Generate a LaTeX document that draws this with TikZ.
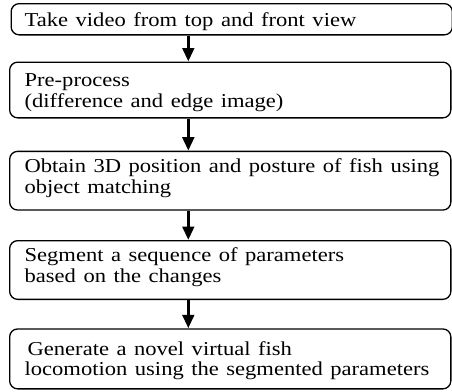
\documentclass[tikz,border=0pt]{standalone}
\usepackage{graphicx}
\usepackage{fontspec}
\setmainfont{Liberation Serif}
\usetikzlibrary{arrows.meta}
% the printed text is set wide
\newcommand{\wideline}[1]{\scalebox{1.145}[1]{#1}}
\begin{document}
\begin{tikzpicture}[x=1pt, y=1pt,
  stage/.style={draw, line width=1.3pt, rounded corners=8pt, anchor=north west,
    minimum width=441.2pt, text width=432.2pt, inner xsep=4.5pt, inner ysep=0pt,
    align=left, font=\fontsize{19.7}{20.8}\selectfont, text height=16pt,
    execute at begin node={\leftskip=10.5pt}},
  flow/.style={line width=3.2pt, -{Triangle[width=11.5pt,length=13.5pt]}}]
\useasboundingbox (0,0) rectangle (452,-391);
% common vertical axis of the arrows
\coordinate (axis) at (188.3,0);
% processing steps, top to bottom
\node[stage, minimum width=439.7pt, minimum height=31.2pt, text depth=1.4pt] (video) at (10.5,-3)
  {\hspace*{-1.5pt}\wideline{Take video from top and front view}};
\node[stage, minimum height=55.7pt, text depth=23pt] (prep) at (9,-61.5)
  {\wideline{Pre-process}\\\wideline{(difference and edge image)}};
\node[stage, minimum height=58.7pt, text depth=32.8pt] (match) at (9,-150.7)
  {\wideline{Obtain 3D position and posture of fish using}\\\wideline{object matching}};
\node[stage, minimum height=58.7pt, text depth=32.6pt] (segm) at (9,-240)
  {\wideline{Segment a sequence of parameters}\\\wideline{based on the changes}};
\node[stage, minimum height=59.9pt, text depth=23.8pt] (gen) at (9,-328.3)
  {\hspace*{3pt}\wideline{Generate a novel virtual fish}\\\wideline{locomotion using the segmented parameters}};
% arrows between the steps
\draw[flow] (video.south -| axis) -- (prep.north -| axis);
\draw[flow] (prep.south -| axis) -- (match.north -| axis);
\draw[flow] (match.south -| axis) -- (segm.north -| axis);
\draw[flow] (segm.south -| axis) -- (gen.north -| axis);
\end{tikzpicture}
\end{document}
